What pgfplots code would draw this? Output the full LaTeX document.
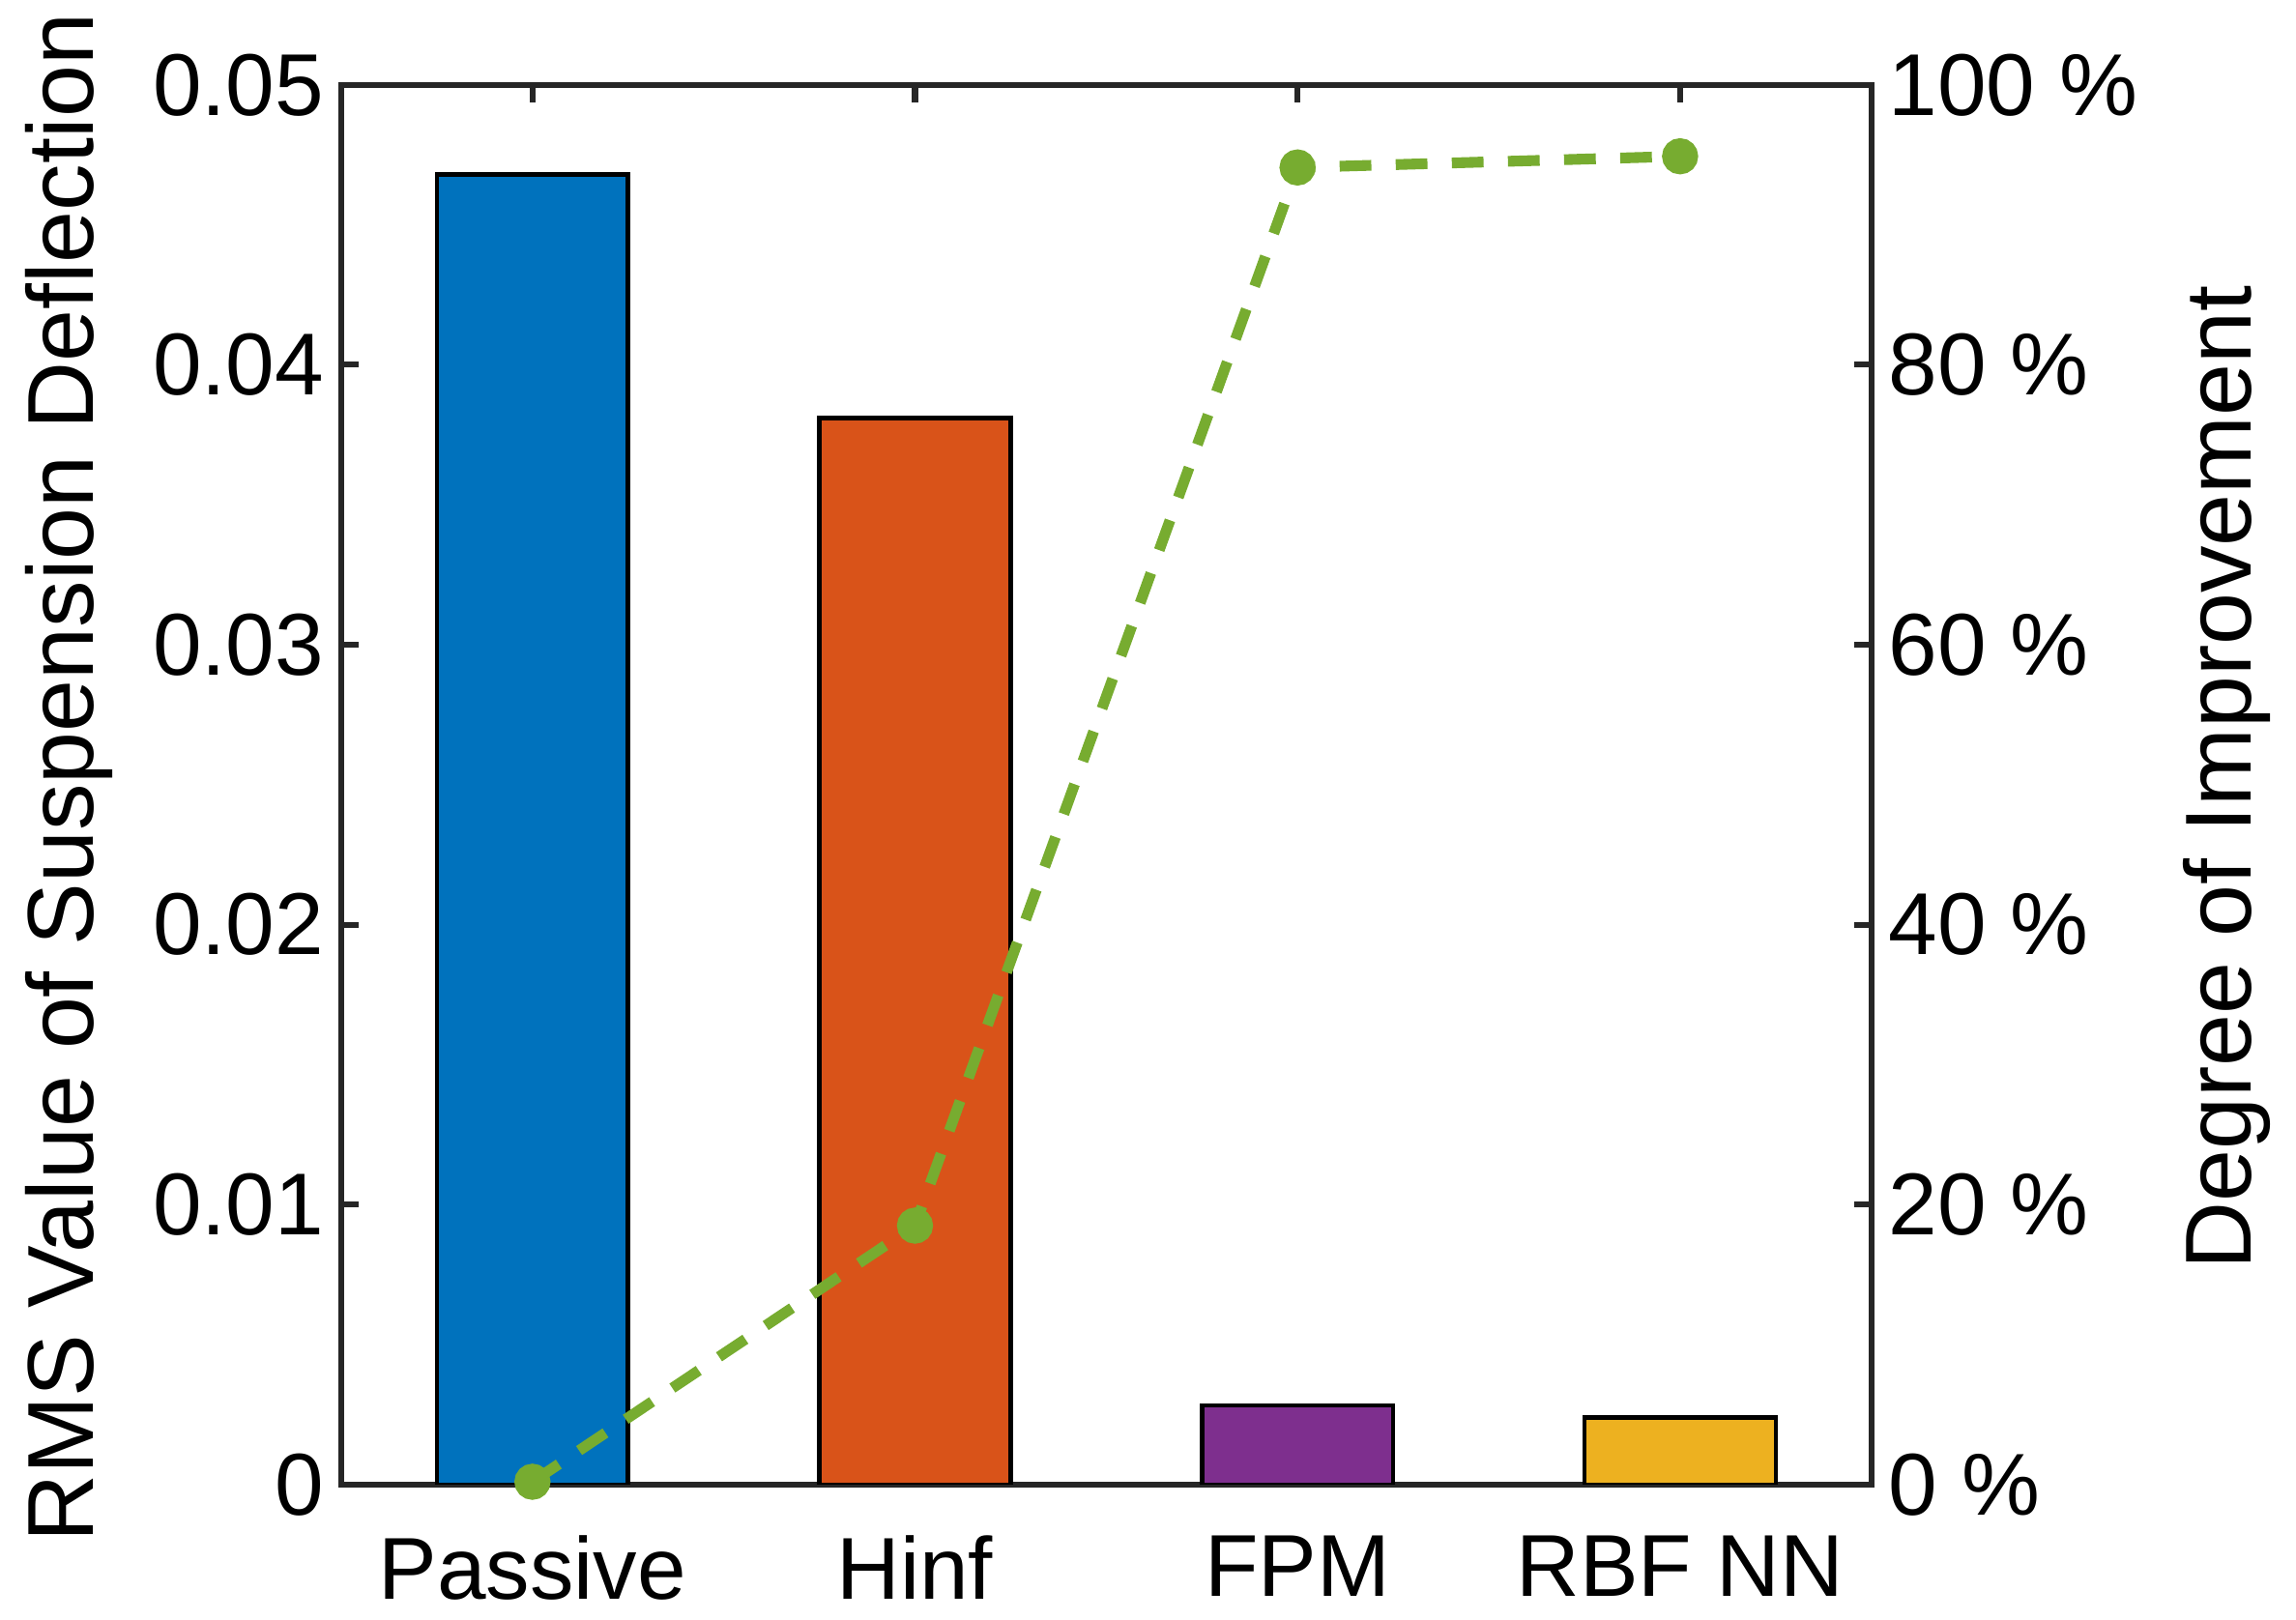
\documentclass[border=0pt]{standalone}
\usepackage{pgfplots}
\pgfplotsset{compat=1.18}
\usepackage{fontspec}
\setmainfont{Liberation Sans}
\definecolor{c1}{RGB}{0,114,189}
\definecolor{c2}{RGB}{217,83,25}
\definecolor{c3}{RGB}{126,47,142}
\definecolor{c4}{RGB}{237,177,32}
\definecolor{c5}{RGB}{119,172,48}
\definecolor{axc}{RGB}{38,38,38}
\begin{document}
\begin{tikzpicture}
\pgfplotsset{
  base/.style={scale only axis, width=313.5pt, height=286.8pt,
    xmin=0.5, xmax=4.5,
    axis line style={axc, line width=1.2pt},
    major tick style={axc, line width=1.2pt},
    major tick length=3.6pt, tick align=inside,
    scaled y ticks=false,
    every tick label/.append style={font=\fontsize{18}{21}\selectfont, text=black},
    label style={font=\fontsize{19.2}{22}\selectfont, text=black}},
  barst/.style={ybar, bar shift=0pt, bar width=0.5, draw=black, line width=0.9pt}
}
\begin{axis}[base, name=a, ymin=0, ymax=0.05,
  xtick={1,2,3,4}, xticklabels={Passive,Hinf,FPM,RBF NN}, xtick pos=both,
  xticklabel style={yshift=-7pt},
  ytick={0,0.01,0.02,0.03,0.04,0.05}, yticklabels={0,0.01,0.02,0.03,0.04,0.05},
  ytick pos=left,
  ylabel={RMS Value of Suspension Deflection},
  ylabel style={at={(axis description cs:-0.178,0.505)}, anchor=center}]
\addplot[barst, fill=c1] coordinates {(1,0.0468)};
\addplot[barst, fill=c2] coordinates {(2,0.0381)};
\addplot[barst, fill=c3] coordinates {(3,0.00282)};
\addplot[barst, fill=c4] coordinates {(4,0.0024)};
\end{axis}
\begin{axis}[base, ymin=0, ymax=100,
  axis y line*=right, axis x line=none,
  ytick={0,20,40,60,80,100}, yticklabels={0 \%,20 \%,40 \%,60 \%,80 \%,100 \%},
  ylabel={Degree of Improvement},
  ylabel style={at={(axis description cs:1.2325,0.505)}, anchor=center}]
\addplot[c5, line width=2.2pt, dash pattern=on 6.5pt off 5pt,
  mark=*, mark options={solid, fill=c5, draw=c5, scale=1.3}, clip=false]
  coordinates {(1,0.2) (2,18.5) (3,94.1) (4,94.9)};
\end{axis}
\pgfresetboundingbox
\path ([xshift=-69.9pt,yshift=-27.6pt]a.south west) rectangle ([xshift=87pt,yshift=17.4pt]a.north east);
\end{tikzpicture}
\end{document}
